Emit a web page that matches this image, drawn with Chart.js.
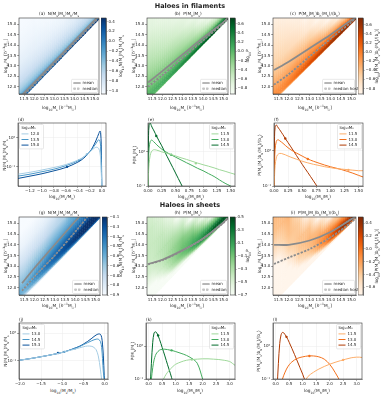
<!DOCTYPE html>
<html><head><meta charset="utf-8">
<script src="https://cdn.jsdelivr.net/npm/chart.js@4.4.0/dist/chart.umd.min.js"></script>
<style>
body{margin:0;background:#fff;width:381px;height:400px;position:relative;overflow:hidden;font-family:"DejaVu Sans",sans-serif;}
canvas{position:absolute;}
.t{position:absolute;white-space:nowrap;color:#222;line-height:1;}
sub,sup{font-size:70%;line-height:0;}
</style></head><body>
<script>
// ---------- heatmap data (columns of log10 values, offsets above the diagonal) ----------
const hmX = [11.25, 11.75, 12.25, 12.75, 13.25, 13.75, 14.25, 14.75, 15.25];
const hmD = [0, 0.05, 0.12, 0.25, 0.4, 0.6, 0.9, 1.3, 1.8, 2.5, 3.3, 4.2];

const heatA = [
  [0.1, 0.2, 0.05, -0.2, -0.4, -0.55, -0.7, -0.82, -0.92, -1.0, -1.05, -1.1],
  [0.15, 0.25, 0.05, -0.2, -0.4, -0.55, -0.7, -0.83, -0.93, -1.0, -1.05, -1.1],
  [0.2, 0.28, 0.05, -0.22, -0.42, -0.57, -0.72, -0.85, -0.95, -1.02, -1.1],
  [0.25, 0.3, 0.05, -0.25, -0.45, -0.6, -0.74, -0.87, -0.97, -1.05],
  [0.3, 0.33, 0.05, -0.27, -0.47, -0.62, -0.76, -0.9, -1.0],
  [0.35, 0.35, 0.05, -0.3, -0.5, -0.65, -0.8, -0.92],
  [0.4, 0.38, 0.05, -0.32, -0.52, -0.67, -0.8],
  [0.45, 0.4, 0.05, -0.35, -0.55, -0.7]
];
const heatB = [
  [-0.5, -0.1, 0.02, 0.05, 0.0, -0.08, -0.18, -0.3, -0.42, -0.55, -0.68, -0.78],
  [-0.45, 0.0, 0.1, 0.08, 0.0, -0.1, -0.22, -0.35, -0.48, -0.62, -0.75, -0.85],
  [-0.4, 0.1, 0.2, 0.12, 0.02, -0.12, -0.26, -0.4, -0.55, -0.7, -0.85],
  [-0.3, 0.3, 0.3, 0.14, 0.0, -0.15, -0.32, -0.48, -0.65, -0.8],
  [-0.15, 0.45, 0.38, 0.17, -0.04, -0.22, -0.42, -0.6, -0.8],
  [0.0, 0.6, 0.48, 0.22, -0.08, -0.35, -0.6, -0.85],
  [0.2, 0.72, 0.55, 0.27, -0.15, -0.5, -0.85],
  [0.3, 0.8, 0.6, 0.25, -0.25, -0.7]
];
const heatC = [
  [-0.8, -0.3, -0.12, -0.08, -0.12, -0.2, -0.3, -0.42, -0.55, -0.65, -0.75, -0.9],
  [-0.7, -0.15, 0.0, -0.02, -0.08, -0.18, -0.3, -0.45, -0.6, -0.7, -0.85, -1.0],
  [-0.55, 0.05, 0.15, 0.1, 0.0, -0.12, -0.28, -0.45, -0.65, -0.8, -1.0],
  [-0.4, 0.25, 0.3, 0.2, 0.05, -0.1, -0.28, -0.5, -0.75, -1.0],
  [-0.2, 0.42, 0.42, 0.25, 0.05, -0.15, -0.4, -0.7, -1.0],
  [0.0, 0.58, 0.52, 0.3, 0.05, -0.25, -0.6, -1.0],
  [0.2, 0.72, 0.6, 0.35, 0.0, -0.4, -0.9],
  [0.3, 0.8, 0.65, 0.3, -0.2, -0.6]
];
const heatG = [
  [-1.2, -1.0, -0.75, -0.6, -0.55, -0.56, -0.62, -0.7, -0.8, -0.9, -0.97, -1.05],
  [-1.1, -0.9, -0.65, -0.5, -0.45, -0.47, -0.55, -0.65, -0.77, -0.88, -0.96, -1.05],
  [-1.0, -0.8, -0.55, -0.42, -0.37, -0.4, -0.5, -0.62, -0.75, -0.87, -0.95],
  [-0.95, -0.7, -0.45, -0.33, -0.3, -0.35, -0.45, -0.58, -0.72, -0.85],
  [-0.9, -0.6, -0.35, -0.25, -0.24, -0.3, -0.42, -0.55, -0.7],
  [-0.85, -0.5, -0.25, -0.17, -0.19, -0.27, -0.4, -0.52],
  [-0.8, -0.4, -0.15, -0.1, -0.15, -0.25, -0.38],
  [-0.75, -0.3, -0.08, -0.05, -0.12, -0.22]
];
const heatH = [
  [-1.5, -1.5, -1.4, -1.2, -1.0, -0.8, -0.6, -0.48, -0.42, -0.4, -0.42, -0.5],
  [-1.5, -1.4, -1.2, -0.9, -0.7, -0.55, -0.42, -0.35, -0.33, -0.38, -0.5, -0.7],
  [-1.4, -1.2, -0.9, -0.6, -0.4, -0.28, -0.22, -0.22, -0.3, -0.5, -0.8],
  [-1.3, -1.1, -0.9, -0.45, -0.2, -0.08, -0.08, -0.15, -0.35, -0.9],
  [-1.2, -0.9, -0.5, -0.1, 0.05, 0.05, -0.05, -0.25, -0.8],
  [-1.1, -0.6, -0.1, 0.2, 0.2, 0.05, -0.25, -0.7],
  [-1.0, -0.2, 0.2, 0.42, 0.25, -0.1, -0.7],
  [-0.8, 0.1, 0.4, 0.45, 0.2, -0.2]
];
const heatI = [
  [-1.5, -1.5, -1.5, -1.5, -1.4, -1.3, -1.15, -1.0, -0.75, -0.5, -0.35, -0.3],
  [-1.5, -1.5, -1.4, -1.3, -1.2, -1.0, -0.8, -0.62, -0.45, -0.35, -0.3, -0.35],
  [-1.5, -1.4, -1.3, -1.0, -0.8, -0.6, -0.45, -0.38, -0.35, -0.4, -0.6],
  [-1.4, -1.3, -1.1, -0.9, -0.55, -0.4, -0.33, -0.3, -0.36, -0.8],
  [-1.3, -1.1, -0.8, -0.4, -0.2, -0.15, -0.2, -0.35, -0.8],
  [-1.2, -0.8, -0.3, 0.05, 0.1, 0.0, -0.25, -0.7],
  [-1.1, -0.4, 0.1, 0.4, 0.3, 0.0, -0.4],
  [-0.9, 0.0, 0.4, 0.5, 0.25, -0.2]
];

// mean / median tracks on the maps
const aMeanX = [11.3, 15.1], aMeanY = [11.5, 15.3];
const aMedX = [11.3, 15.2], aMedY = [11.4, 15.3];
const bMeanX = [11.3, 12.0, 13.0, 14.0, 15.0, 15.2], bMeanY = [12.2, 12.75, 13.55, 14.35, 15.1, 15.3];
const bMedX = [11.3, 12.0, 13.0, 14.0, 15.0, 15.2], bMedY = [12.0, 12.55, 13.38, 14.22, 15.05, 15.25];
const cMeanX = [11.3, 12.0, 13.0, 14.0, 15.0, 15.2], cMeanY = [12.8, 13.2, 13.85, 14.5, 15.2, 15.3];
const cMedX = [11.3, 12.0, 13.0, 14.0, 15.0, 15.2], cMedY = [12.1, 12.6, 13.45, 14.3, 15.1, 15.3];
const gMeanX = [11.4, 12.0, 13.0, 14.0, 14.2], gMeanY = [12.2, 12.9, 14.0, 15.1, 15.3];
const gMedX = [11.4, 12.0, 13.0, 14.0, 14.6], gMedY = [11.85, 12.5, 13.5, 14.6, 15.3];
const hMeanX = [11.3, 12.0, 13.0, 14.0, 15.0, 15.2], hMeanY = [13.1, 13.3, 13.75, 14.3, 15.05, 15.25];
const hMedX = [11.3, 12.0, 13.0, 14.0, 15.0, 15.2], hMedY = [13.08, 13.28, 13.73, 14.28, 15.03, 15.25];
const iMeanX = [11.3, 12.0, 13.0, 14.0, 15.0, 15.2], iMeanY = [14.0, 14.0, 14.2, 14.6, 15.2, 15.3];
const iMedX = [11.3, 12.0, 13.0, 14.0, 15.0, 15.2], iMedY = [13.1, 13.4, 13.8, 14.35, 15.05, 15.25];

// ---------- line panels ----------
const dX = [-1.4, -1.2, -1.0, -0.8, -0.6, -0.4, -0.3, -0.2, -0.15, -0.1, -0.07, -0.05, -0.03, -0.02, -0.01, 0.0];
const d120 = [0.056, 0.065, 0.078, 0.095, 0.12, 0.17, 0.22, 0.32, 0.4, 0.47, 0.46, 0.42, 0.3, 0.18, 0.07, 0.02];
const d135 = [0.048, 0.056, 0.068, 0.083, 0.11, 0.16, 0.22, 0.33, 0.45, 0.62, 0.78, 0.86, 0.75, 0.5, 0.15, 0.02];
const d150 = [0.04, 0.048, 0.058, 0.073, 0.095, 0.145, 0.2, 0.33, 0.48, 0.78, 1.1, 1.4, 1.7, 1.5, 0.6, 0.02];
const dDotX = [-0.25, -0.38, -0.58], dDotY = [0.27, 0.17, 0.1];

const eX = [0, 0.01, 0.02, 0.04, 0.06, 0.08, 0.1, 0.13, 0.16, 0.2, 0.25, 0.3, 0.4, 0.5, 0.6, 0.7, 0.8, 0.9, 1.0, 1.1, 1.2, 1.3, 1.4, 1.5, 1.58];
const e115 = [0.08, 0.25, 0.45, 0.8, 1.0, 1.1, 1.15, 1.15, 1.12, 1.07, 1.0, 0.95, 0.85, 0.76, 0.67, 0.6, 0.53, 0.47, 0.42, 0.38, 0.34, 0.3, 0.27, 0.24, 0.22];
const e130 = [0.08, 0.6, 1.3, 2.0, 2.2, 2.15, 2.0, 1.8, 1.6, 1.4, 1.2, 1.05, 0.85, 0.7, 0.58, 0.48, 0.4, 0.33, 0.28, 0.23, 0.19, 0.15, 0.12, 0.1, 0.085];
const e145 = [0.1, 3.0, 6.0, 7.0, 5.9, 5.0, 4.4, 3.5, 2.8, 2.1, 1.5, 1.03, 0.5, 0.24, 0.115, 0.056, 0.03, 0.02, 0.01, 0.01, 0.01, 0.01, 0.01, 0.01, 0.01];
const eDotX = [0.87, 0.42, 0.15], eDotY = [0.46, 0.82, 2.9];

const fX = eX;
const f115 = [0.07, 0.2, 0.38, 0.62, 0.75, 0.8, 0.83, 0.83, 0.8, 0.76, 0.7, 0.65, 0.57, 0.5, 0.45, 0.41, 0.38, 0.35, 0.33, 0.31, 0.3, 0.29, 0.28, 0.27, 0.27];
const f130 = [0.08, 0.5, 1.1, 1.8, 2.0, 2.0, 1.9, 1.75, 1.6, 1.4, 1.2, 1.05, 0.85, 0.7, 0.58, 0.5, 0.44, 0.39, 0.35, 0.32, 0.29, 0.26, 0.23, 0.2, 0.18];
const f145 = [0.1, 2.5, 4.5, 5.3, 4.8, 4.3, 3.9, 3.3, 2.8, 2.2, 1.67, 1.27, 0.72, 0.41, 0.24, 0.14, 0.08, 0.045, 0.026, 0.01, 0.01, 0.01, 0.01, 0.01, 0.01];
const fDotX = [1.32, 0.6, 0.2], fDotY = [0.285, 0.58, 2.2];

const jX = [-2.0, -1.75, -1.5, -1.25, -1.0, -0.8, -0.6, -0.5, -0.4, -0.3, -0.25, -0.2, -0.15, -0.1, -0.07, -0.05, -0.03, -0.01, 0.0];
const j130 = [0.105, 0.12, 0.14, 0.165, 0.2, 0.24, 0.29, 0.32, 0.34, 0.33, 0.3, 0.25, 0.15, 0.05, 0.02, 0.01, 0.01, 0.01, 0.01];
const j145 = [0.105, 0.12, 0.14, 0.165, 0.2, 0.25, 0.32, 0.38, 0.45, 0.53, 0.57, 0.6, 0.6, 0.5, 0.3, 0.12, 0.04, 0.02, 0.01];
const j153 = [0.105, 0.12, 0.14, 0.165, 0.2, 0.25, 0.33, 0.4, 0.5, 0.65, 0.75, 0.85, 0.92, 0.9, 0.7, 0.4, 0.15, 0.03, 0.02];
const jDotX = [-0.7, -0.95, -1.1], jDotY = [0.27, 0.21, 0.19];

const kX = [0.0, 0.05, 0.1, 0.15, 0.2, 0.25, 0.3, 0.4, 0.5, 0.6, 0.7, 0.8, 0.9, 1.0, 1.2, 1.4, 1.6, 1.8, 2.0, 2.2, 2.4, 2.6, 2.8, 3.0, 3.1, 3.2];
const k115 = [0.01, 0.01, 0.01, 0.01, 0.015, 0.02, 0.03, 0.05, 0.08, 0.12, 0.16, 0.2, 0.24, 0.28, 0.33, 0.37, 0.39, 0.4, 0.41, 0.41, 0.4, 0.39, 0.37, 0.34, 0.3, 0.26];
const k130 = [0.01, 0.03, 0.1, 0.22, 0.38, 0.52, 0.62, 0.75, 0.8, 0.8, 0.78, 0.75, 0.72, 0.68, 0.6, 0.52, 0.42, 0.3, 0.1, 0.03, 0.01, 0.01, 0.01, 0.01, 0.01, 0.01];
const k145 = [0.01, 0.05, 0.3, 1.3, 2.5, 2.7, 2.5, 1.6, 0.9, 0.5, 0.27, 0.15, 0.08, 0.045, 0.015, 0.01, 0.01, 0.01, 0.01, 0.01, 0.01, 0.01, 0.01, 0.01, 0.01, 0.01];
const kDotX = [1.6, 0.85, 0.35], kDotY = [0.39, 0.74, 2.1];

const lX = kX;
const l115 = [0.01, 0.01, 0.01, 0.01, 0.01, 0.01, 0.01, 0.01, 0.02, 0.03, 0.04, 0.05, 0.06, 0.07, 0.12, 0.16, 0.2, 0.24, 0.28, 0.32, 0.36, 0.4, 0.44, 0.46, 0.46, 0.45];
const l130 = [0.01, 0.01, 0.02, 0.04, 0.07, 0.1, 0.13, 0.2, 0.27, 0.33, 0.38, 0.42, 0.45, 0.47, 0.5, 0.5, 0.47, 0.4, 0.28, 0.16, 0.08, 0.03, 0.01, 0.01, 0.01, 0.01];
const l145 = [0.01, 0.05, 0.3, 1.2, 2.2, 2.6, 2.5, 1.9, 1.3, 0.85, 0.55, 0.35, 0.22, 0.14, 0.05, 0.02, 0.01, 0.01, 0.01, 0.01, 0.01, 0.01, 0.01, 0.01, 0.01, 0.01];
const lDotX = [2.5, 1.25, 0.4], lDotY = [0.38, 0.5, 1.9];

// ---------- colours ----------
const BLUES = ['#f7fbff','#deebf7','#c6dbef','#9ecae1','#6baed6','#4292c6','#2171b5','#08519c','#08306b'];
const GREENS = ['#f7fcf5','#e5f5e0','#c7e9c0','#a1d99b','#74c476','#41ab5d','#238b45','#006d2c','#00441b'];
const ORANGES = ['#fff5eb','#fee6ce','#fdd0a2','#fdae6b','#fd8d3c','#f16913','#d94801','#a63603','#7f2704'];

function hex(h) { return [1, 3, 5].map(i => parseInt(h.substr(i, 2), 16)); }
function cmap(stops, t) {
  t = Math.max(0, Math.min(1, t));
  const f = t * (stops.length - 1), i = Math.min(stops.length - 2, Math.floor(f)), k = f - i;
  const a = hex(stops[i]), b = hex(stops[i + 1]);
  return 'rgb(' + a.map((v, j) => Math.round(v + (b[j] - v) * k)).join(',') + ')';
}

Chart.defaults.font.family = "'DejaVu Sans', sans-serif";
Chart.defaults.font.size = 4;
Chart.defaults.color = '#222';
Chart.defaults.animation = false;
Chart.defaults.responsive = false;
Chart.defaults.plugins.legend.display = false;
Chart.defaults.plugins.tooltip.enabled = false;

const minus = v => (v < -1e-9 ? '\u2212' : '');
const fmt = n => v => minus(v) + Math.abs(v).toFixed(n);

function txt(html, x, y, size, opts) {
  opts = opts || {};
  const d = document.createElement('div');
  d.className = 't';
  d.innerHTML = html;
  d.style.left = x + 'px';
  d.style.top = y + 'px';
  d.style.fontSize = size + 'px';
  if (opts.bold) d.style.fontWeight = 'bold';
  const tx = opts.left ? '0' : '-50%';
  d.style.transform = 'translate(' + tx + ',-50%)' + (opts.rot ? ' rotate(-90deg)' : '');
  document.body.appendChild(d);
}

function canvasAt(L, T, W, H) {
  const c = document.createElement('canvas');
  c.width = W; c.height = H;
  c.style.left = L + 'px'; c.style.top = T + 'px';
  document.body.appendChild(c);
  return c;
}

const frame = { id: 'frame', afterDraw(chart) {
  const { ctx, chartArea: a } = chart;
  ctx.save(); ctx.strokeStyle = '#333'; ctx.lineWidth = 0.6;
  ctx.strokeRect(a.left, a.top, a.right - a.left, a.bottom - a.top);
  ctx.restore();
} };

// colour of a map at column position u (blended between neighbouring column centres) and row r
function cellValue(vals, u, r) {
  const cen = vals.map((_, c) => (hmX[c] + hmX[c + 1]) / 2);
  const get = c => { const col = vals[c]; return col[Math.min(r, col.length - 1)]; };
  if (u <= cen[0]) return get(0);
  if (u >= cen[cen.length - 1]) return get(cen.length - 1);
  let c = 0; while (u > cen[c + 1]) c++;
  const k = (u - cen[c]) / (cen[c + 1] - cen[c]);
  return get(c) * (1 - k) + get(c + 1) * k;
}

function heatLayer(vals, stops, vmin, vmax) {
  return { id: 'heat', beforeDatasetsDraw(chart) {
    const { ctx, chartArea: a, scales: { x, y } } = chart;
    const px = (u, v) => [x.getPixelForValue(u), y.getPixelForValue(v)];
    const col = v => cmap(stops, (v - vmin) / (vmax - vmin));
    const e0 = px(hmX[0], hmX[0]), e1 = px(hmX[hmX.length - 1], hmX[hmX.length - 1]);
    const len = Math.hypot(e1[0] - e0[0], e1[1] - e0[1]);
    const nx = -(e1[1] - e0[1]) / len, ny = (e1[0] - e0[0]) / len;
    const sub = 0.1;
    ctx.save();
    ctx.beginPath(); ctx.rect(a.left, a.top, a.right - a.left, a.bottom - a.top); ctx.clip();
    for (let u0 = hmX[0]; u0 < hmX[hmX.length - 1] - 1e-6; u0 += sub) {
      const u1 = u0 + sub + 0.02, um = u0 + sub / 2;
      for (let r = 0; r < hmD.length; r++) {
        const d0 = hmD[r], d1 = r + 1 < hmD.length ? hmD[r + 1] : hmD[r] + 1.5;
        const v0 = cellValue(vals, um, r), v1 = cellValue(vals, um, r + 1);
        const g0 = px(um, um + d0), g1 = px(um, um + d1);
        const pr = (g1[0] - g0[0]) * nx + (g1[1] - g0[1]) * ny;
        const g = ctx.createLinearGradient(g0[0], g0[1], g0[0] + nx * pr, g0[1] + ny * pr);
        g.addColorStop(0, col(v0)); g.addColorStop(1, col(v1));
        const p = [px(u0, u0 + d0), px(u1, u1 + d0), px(u1, u1 + d1 + 0.04), px(u0, u0 + d1 + 0.04)];
        ctx.beginPath(); ctx.moveTo(p[0][0], p[0][1]);
        p.slice(1).forEach(q => ctx.lineTo(q[0], q[1]));
        ctx.closePath(); ctx.fillStyle = g; ctx.fill();
      }
    }
    ctx.restore();
  } };
}

function cbarLayer(stops) {
  return { id: 'cbar', beforeDraw(chart) {
    const { ctx, chartArea: a } = chart;
    const g = ctx.createLinearGradient(0, a.bottom, 0, a.top);
    stops.forEach((s, i) => g.addColorStop(i / (stops.length - 1), s));
    ctx.save(); ctx.fillStyle = g;
    ctx.fillRect(a.left, a.top, a.right - a.left, a.bottom - a.top);
    ctx.restore();
  } };
}

// legend box drawn inside the plot
function boxLegend(o) {
  return { id: 'boxlegend', afterDatasetsDraw(chart) {
    const { ctx, chartArea: a } = chart;
    const rows = o.items.length + (o.title ? 1 : 0);
    const h = rows * 5.6 + 2, w = o.w;
    const bx = o.right ? a.right - w - 1.5 : a.left + 1.5;
    const by = o.bottom ? a.bottom - h - 1.5 : a.top + 1.5;
    ctx.save();
    ctx.fillStyle = 'rgba(255,255,255,0.85)'; ctx.strokeStyle = '#d0d0d0'; ctx.lineWidth = 0.5;
    ctx.beginPath(); ctx.roundRect(bx, by, w, h, 1); ctx.fill(); ctx.stroke();
    ctx.font = "4px 'DejaVu Sans', sans-serif"; ctx.textBaseline = 'middle'; ctx.fillStyle = '#222';
    let yy = by + 3.8;
    if (o.title) { ctx.fillText(o.title, bx + 2, yy); yy += 5.6; }
    o.items.forEach(it => {
      ctx.setLineDash(it.dash || []);
      if (it.outline) { ctx.strokeStyle = '#8a8a8a'; ctx.lineWidth = 1.8; ctx.beginPath(); ctx.moveTo(bx + 2, yy); ctx.lineTo(bx + 9, yy); ctx.stroke(); }
      ctx.strokeStyle = it.c; ctx.lineWidth = it.outline ? 0.9 : 1;
      ctx.beginPath(); ctx.moveTo(bx + 2, yy); ctx.lineTo(bx + 9, yy); ctx.stroke();
      ctx.setLineDash([]);
      ctx.fillStyle = '#222'; ctx.fillText(it.t, bx + 11, yy);
      yy += 5.6;
    });
    ctx.restore();
  } };
}

const pts = (xs, ys) => xs.map((v, i) => ({ x: v, y: ys[i] }));
const tickFont = { size: 4 };

function track(xs, ys, dashed) {
  const base = { data: pts(xs, ys), pointRadius: 0, tension: 0.3, fill: false };
  return [
    Object.assign({}, base, { borderColor: '#8a8a8a', borderWidth: 1.8, borderDash: dashed ? [2.2, 1.4] : [] }),
    Object.assign({}, base, { borderColor: '#dcdcdc', borderWidth: 0.9, borderDash: dashed ? [2.2, 1.4] : [] })
  ];
}

function heatPanel(box, cbox, vals, stops, vmin, vmax, step, mean, med, medLabel) {
  const [L, T, R, B] = box;
  const pl = 16, pt = 4, pr = 6, pb = 8;
  const cv = canvasAt(L - pl, T - pt, R - L + pl + pr, B - T + pt + pb);
  new Chart(cv, {
    type: 'line',
    data: { datasets: [...track(mean[0], mean[1], false), ...track(med[0], med[1], true)] },
    options: {
      layout: { padding: { top: pt, right: pr, left: 0, bottom: 0 } },
      scales: {
        x: { type: 'linear', min: 11.25, max: 15.22,
             ticks: { stepSize: 0.5, includeBounds: false, autoSkip: false, maxRotation: 0, padding: 1, font: tickFont, callback: fmt(1) },
             grid: { drawOnChartArea: false, tickLength: 1.8, color: '#333', lineWidth: 0.5 },
             border: { color: '#333', width: 0.6 }, afterFit: s => { s.height = pb; } },
        y: { type: 'linear', min: 11.65, max: 15.3,
             ticks: { stepSize: 0.5, includeBounds: false, autoSkip: false, padding: 1, font: tickFont, callback: fmt(1) },
             grid: { drawOnChartArea: false, tickLength: 1.8, color: '#333', lineWidth: 0.5 },
             border: { color: '#333', width: 0.6 }, afterFit: s => { s.width = pl; } }
      }
    },
    plugins: [heatLayer(vals, stops, vmin, vmax), frame, boxLegend({ right: true, bottom: true, w: medLabel.length > 6 ? 32 : 26,
      items: [{ t: 'mean', c: '#dcdcdc', outline: true }, { t: medLabel, c: '#dcdcdc', outline: true, dash: [2.2, 1.4] }] })]
  });
  // colour bar
  const [cl, ct, cr, cb] = cbox;
  const cpr = 13;
  const cc = canvasAt(cl, ct - pt, cr - cl + cpr, cb - ct + pt + pt);
  new Chart(cc, {
    type: 'scatter', data: { datasets: [] },
    options: {
      layout: { padding: { top: pt, bottom: pt, left: 0, right: 0 } },
      scales: {
        x: { display: false, min: 0, max: 1 },
        y: { position: 'right', min: vmin, max: vmax,
             ticks: { stepSize: step, includeBounds: false, autoSkip: false, padding: 1, font: tickFont, callback: fmt(1) },
             grid: { drawOnChartArea: false, tickLength: 1.5, color: '#333', lineWidth: 0.5 },
             border: { color: '#333', width: 0.6 }, afterFit: s => { s.width = cpr; } }
      }
    },
    plugins: [cbarLayer(stops), frame]
  });
}

const isDec = v => Math.abs(Math.log10(v) - Math.round(Math.log10(v))) < 1e-6;
const supLabel = v => { const e = Math.round(Math.log10(v)); return '10' + (e < 0 ? '\u207B' : '') + ['\u2070','\u00B9','\u00B2'][Math.abs(e)]; };

function linePanel(box, xr, xstep, xdec, yr, xs, series, colors, dots, title, leftLegend) {
  const [L, T, R, B] = box;
  const pl = 14, pt = 4, pr = 6, pb = 8;
  const cv = canvasAt(L - pl, T - pt, R - L + pl + pr, B - T + pt + pb);
  const ds = series.map((s, i) => ({ data: pts(xs, s), borderColor: colors[i], borderWidth: 1, pointRadius: 0, tension: 0.35, fill: false }));
  dots[0].forEach((v, i) => ds.push({ type: 'scatter', data: [{ x: v, y: dots[1][i] }], pointRadius: 1.2, pointBackgroundColor: colors[i], pointBorderColor: colors[i], pointBorderWidth: 0 }));
  new Chart(cv, {
    type: 'line',
    data: { datasets: ds },
    options: {
      layout: { padding: { top: pt, right: pr, left: 0, bottom: 0 } },
      scales: {
        x: { type: 'linear', min: xr[0], max: xr[1],
             ticks: { stepSize: xstep, includeBounds: false, autoSkip: false, maxRotation: 0, padding: 1, font: tickFont, callback: fmt(xdec) },
             grid: { color: '#ebebeb', lineWidth: 0.5, tickLength: 1.8, tickColor: '#333' },
             border: { color: '#555', width: 0.6 }, afterFit: s => { s.height = pb; } },
        y: { type: 'logarithmic', min: yr[0], max: yr[1],
             ticks: { autoSkip: false, padding: 1, font: tickFont, callback: v => (isDec(v) ? supLabel(v) : '') },
             grid: { color: c => (isDec(c.tick.value) ? '#ebebeb' : 'rgba(0,0,0,0)'), lineWidth: 0.5, tickLength: 1.8,
                     tickColor: c => (isDec(c.tick.value) ? '#333' : 'rgba(0,0,0,0)') },
             border: { color: '#555', width: 0.6 }, afterFit: s => { s.width = pl; } }
      }
    },
    plugins: [frame, boxLegend({ right: !leftLegend, bottom: false, w: 24, title: title[0],
      items: title.slice(1).map((t, i) => ({ t: t, c: colors[i] })) })]
  });
}

// ---------- build ----------
const BL = [cmap(BLUES, 0.35), cmap(BLUES, 0.6), cmap(BLUES, 0.88)];
const GR = [cmap(GREENS, 0.38), cmap(GREENS, 0.62), cmap(GREENS, 0.88)];
const OR = [cmap(ORANGES, 0.38), cmap(ORANGES, 0.6), cmap(ORANGES, 0.85)];

const S = 'M<sub>s</sub>', H = 'M<sub>h</sub>';
const unit = ' [<i>h</i><sup>\u22121</sup>M<sub>\u2609</sub>]';

heatPanel([19, 18, 99, 94], [101, 18, 106, 94], heatA, BLUES, -1.07, 0.47, 0.2, [aMeanX, aMeanY], [aMedX, aMedY], 'median');
heatPanel([147, 18, 228, 94], [230, 18, 235, 94], heatB, GREENS, -0.92, 0.72, 0.2, [bMeanX, bMeanY], [bMedX, bMedY], 'median');
heatPanel([273, 18, 356, 94], [358, 18, 363, 94], heatC, ORANGES, -0.92, 0.75, 0.2, [cMeanX, cMeanY], [cMedX, cMedY], 'median host');
heatPanel([19, 217, 100, 295], [102, 217, 107, 295], heatG, BLUES, -0.95, -0.15, 0.1, [gMeanX, gMeanY], [gMedX, gMedY], 'median');
heatPanel([147, 217, 228, 295], [230, 217, 235, 295], heatH, GREENS, -0.7, 0.5, 0.2, [hMeanX, hMeanY], [hMedX, hMedY], 'median');
heatPanel([273, 217, 356, 295], [358, 217, 363, 295], heatI, ORANGES, -0.72, 0.5, 0.2, [iMeanX, iMeanY], [iMedX, iMedY], 'median host');

linePanel([18, 123, 106, 186], [-1.4, 0.07], 0.2, 1, [0.022, 3.2], dX, [d120, d135, d150], BL, [dDotX, dDotY], ['log\u2081\u2080M\u2095', '12.0', '13.5', '15.0'], true);
linePanel([148, 123, 235, 186], [0, 1.58], 0.25, 2, [0.1, 7], eX, [e115, e130, e145], GR, [eDotX, eDotY], ['log\u2081\u2080M\u209B', '11.5', '13.0', '14.5'], false);
linePanel([274, 123, 363, 186], [0, 1.58], 0.25, 2, [0.1, 6], fX, [f115, f130, f145], OR, [fDotX, fDotY], ['log\u2081\u2080M\u209B', '11.5', '13.0', '14.5'], false);
linePanel([19, 323, 108, 379], [-2.02, 0.08], 0.5, 1, [0.022, 2.3], jX, [j130, j145, j153], BL, [jDotX, jDotY], ['log\u2081\u2080M\u2095', '13.0', '14.5', '15.3'], true);
linePanel([146, 323, 235, 379], [-0.1, 3.2], 0.5, 1, [0.1, 5], kX, [k115, k130, k145], GR, [kDotX, kDotY], ['log\u2081\u2080M\u209B', '11.5', '13.0', '14.5'], false);
linePanel([273, 323, 362, 379], [-0.1, 3.2], 0.5, 1, [0.1, 5], lX, [l115, l130, l145], OR, [lDotX, lDotY], ['log\u2081\u2080M\u209B', '11.5', '13.0', '14.5'], false);

// ---------- text ----------
txt('Haloes in filaments', 190, 5.5, 6.5, { bold: true });
txt('Haloes in sheets', 190, 205, 6.5, { bold: true });
const T1 = [['(a)&nbsp; N(' + S + '|' + H + ')' + H + '/' + S, 59], ['(b)&nbsp; P(' + H + '|' + S + ')', 188], ['(c)&nbsp; P(' + H + '|' + S + ')b<sub>h</sub>(' + H + ')/\u27E8b<sub>h</sub>\u27E9', 315]];
T1.forEach(t => txt(t[0], t[1], 13.5, 4.3));
const T3 = [['(g)&nbsp; N(' + S + '|' + H + ')' + H + '/' + S, 59], ['(h)&nbsp; P(' + H + '|' + S + ')', 188], ['(i)&nbsp; P(' + H + '|' + S + ')b<sub>h</sub>(' + H + ')/\u27E8b<sub>h</sub>\u27E9', 315]];
T3.forEach(t => txt(t[0], t[1], 212.5, 4.3));
[59, 187, 315].forEach(x => { txt('log<sub>10</sub>' + S + unit, x, 108, 4.3); txt('log<sub>10</sub>' + S + unit, x, 306, 4.3); });
[6, 134, 260].forEach(x => { txt('log<sub>10</sub>' + H + unit, x, 56, 4.3, { rot: true }); txt('log<sub>10</sub>' + H + unit, x, 256, 4.3, { rot: true }); });
const CB = ['log<sub>10</sub>N(' + S + '|' + H + ')' + H + '/' + S, 'log<sub>10</sub>P', 'log<sub>10</sub>[P(' + H + '|' + S + ')b<sub>h</sub>(' + H + ')/\u27E8b<sub>h</sub>\u27E9]'];
[[121, 56, 0], [248, 56, 1], [377, 56, 2], [121, 256, 0], [248, 256, 1], [377, 256, 2]].forEach(c => txt(CB[c[2]], c[0], c[1], 4.3, { rot: true }));
[['(d)', 18, 120], ['(e)', 148, 120], ['(f)', 274, 120], ['(j)', 19, 320], ['(k)', 146, 320], ['(l)', 273, 320]].forEach(t => txt(t[0], t[1], t[2], 4.2, { left: true }));
[[62, 197, 'log<sub>10</sub>(' + S + '/' + H + ')'], [191, 197, 'log<sub>10</sub>(' + H + '/' + S + ')'], [318, 197, 'log<sub>10</sub>(' + H + '/' + S + ')'],
 [63, 391, 'log<sub>10</sub>(' + S + '/' + H + ')'], [190, 391, 'log<sub>10</sub>(' + H + '/' + S + ')'], [317, 391, 'log<sub>10</sub>(' + H + '/' + S + ')']].forEach(t => txt(t[2], t[0], t[1], 4.3));
[[5, 155, 'N(' + S + '|' + H + ')' + H + '/' + S], [135, 155, 'P(' + H + '|' + S + ')'], [260, 155, 'P(' + H + '|' + S + ')b<sub>h</sub>(' + H + ')/\u27E8b<sub>h</sub>\u27E9'],
 [6, 351, 'N(' + S + '|' + H + ')' + H + '/' + S], [133, 351, 'P(' + H + '|' + S + ')'], [259, 351, 'P(' + H + '|' + S + ')b<sub>h</sub>(' + H + ')/\u27E8b<sub>h</sub>\u27E9']].forEach(t => txt(t[2], t[0], t[1], 4.3, { rot: true }));
</script></body></html>
